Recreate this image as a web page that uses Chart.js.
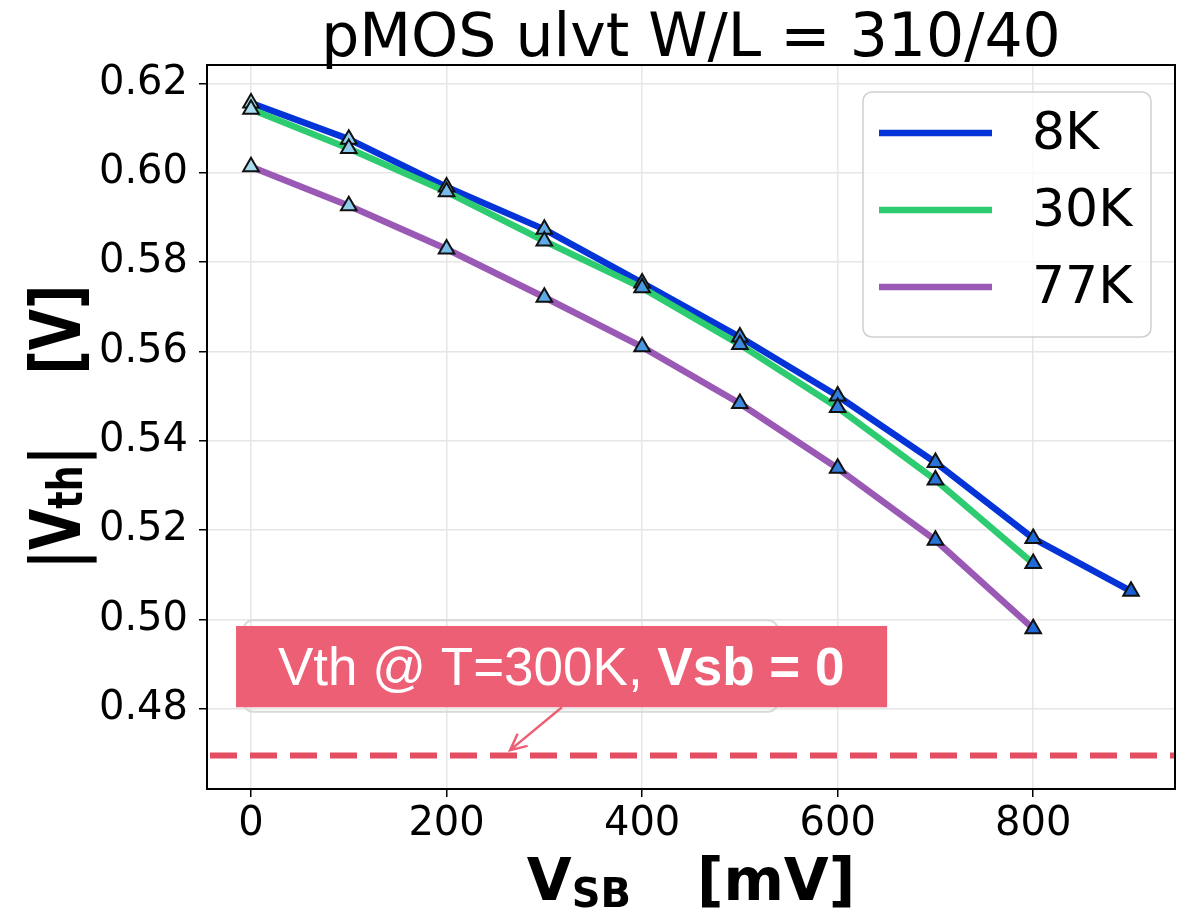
<!DOCTYPE html>
<html>
<head>
<meta charset="utf-8">
<title>pMOS ulvt W/L = 310/40</title>
<script src="https://cdn.jsdelivr.net/npm/chart.js@4.4.1/dist/chart.umd.min.js"></script>
<style>
  html, body { margin: 0; padding: 0; background: #fff; }
  canvas { display: block; }
</style>
</head>
<body>
<canvas id="vthChart" width="1186" height="909"></canvas>
<script>
// |Vth| vs source-bulk bias for a pMOS ulvt device, W/L = 310/40

// Data (Vsb in mV, |Vth| in V)
const vsb    = [0, 100, 200, 300, 400, 500, 600, 700, 800, 900];
const vth8K  = [0.6156, 0.6075, 0.5968, 0.5873, 0.5753, 0.5632, 0.5500, 0.5351, 0.5181, 0.5063];
const vth30K = [0.6142, 0.6054, 0.5957, 0.5847, 0.5742, 0.5615, 0.5474, 0.5312, 0.5125];
const vth77K = [0.6013, 0.5926, 0.5829, 0.5721, 0.5610, 0.5483, 0.5338, 0.5177, 0.4979];
const seriesLabels = ['8K', '30K', '77K'];
const xTicks = [0, 200, 400, 600, 800];
const yTicks = [0.48, 0.50, 0.52, 0.54, 0.56, 0.58, 0.60, 0.62];
const vth300K = 0.4695;   // reference: T = 300K, Vsb = 0

// Styling
const FONT = "'DejaVu Sans', sans-serif";
const lineColors = ['#0434d8', '#2ecc71', '#9b59b6'];
// marker fill shades from light to darker blue along Vsb
const markerFill = ['#a8dcee', '#8ecdee', '#76bbea', '#5eaae6', '#4a98e2',
                    '#3d8ade', '#337ddb', '#2a73d9', '#2069d8', '#1a5fd4'];
const noteColor = '#ec5f74';

const toPoints = (ys) => ys.map((y, i) => ({ x: vsb[i], y: y }));
const series = [vth8K, vth30K, vth77K];

// lines first, triangles in separate sets so they sit above every line
const lineSets = series.map((ys, i) => ({
    label: seriesLabels[i],
    data: toPoints(ys),
    showLine: true,
    borderColor: lineColors[i],
    backgroundColor: lineColors[i],
    borderWidth: 6.5,
    borderJoinStyle: 'round',
    borderCapStyle: 'round',
    pointRadius: 0,
    tension: 0,
    order: 10 - i
}));
const markerSets = series.map((ys, i) => ({
    label: seriesLabels[i] + ' markers',
    data: toPoints(ys),
    showLine: false,
    pointStyle: 'triangle',
    pointRadius: 9,
    pointBorderWidth: 2,
    pointBorderColor: '#111',
    pointBackgroundColor: markerFill.slice(0, ys.length),
    order: 3 - i
}));

// text runs drawn in sequence: [text, size, bold, baseline shift]
function runWidth(ctx, runs) {
    let w = 0;
    runs.forEach(r => {
        if (r.gap) { w += r.gap; return; }
        ctx.font = (r.bold ? 'bold ' : '') + r.size + 'px ' + FONT;
        w += ctx.measureText(r.text).width;
    });
    return w;
}
function drawRuns(ctx, runs, x, y) {
    runs.forEach(r => {
        if (r.gap) { x += r.gap; return; }
        ctx.font = (r.bold ? 'bold ' : '') + r.size + 'px ' + FONT;
        ctx.fillText(r.text, x, y + (r.dy || 0));
        x += ctx.measureText(r.text).width;
    });
}

const decorations = {
    id: 'decorations',
    beforeDatasetsDraw(chart) {
        const { ctx, chartArea: a, scales: { y } } = chart;
        const py = y.getPixelForValue(vth300K);
        ctx.save();
        ctx.beginPath();
        ctx.rect(a.left, a.top, a.right - a.left, a.bottom - a.top);
        ctx.clip();
        ctx.strokeStyle = '#e34f60';
        ctx.lineWidth = 6;
        ctx.setLineDash([27, 13]);
        ctx.beginPath();
        ctx.moveTo(a.left + 3, py);
        ctx.lineTo(a.right, py);
        ctx.stroke();
        ctx.restore();
    },
    afterDraw(chart) {
        const { ctx, chartArea: a, scales: { x, y } } = chart;
        const cx = (a.left + a.right) / 2;
        const cy = (a.top + a.bottom) / 2;
        ctx.save();

        // frame
        ctx.strokeStyle = '#000';
        ctx.lineWidth = 2;
        ctx.strokeRect(a.left, a.top, a.right - a.left, a.bottom - a.top);

        // title
        ctx.fillStyle = '#000';
        ctx.textAlign = 'center';
        ctx.textBaseline = 'alphabetic';
        ctx.font = '60px ' + FONT;
        ctx.fillText('pMOS ulvt W/L = 310/40', cx, 56);

        // x axis title: V_SB   [mV]
        ctx.textAlign = 'left';
        const xRuns = [
            { text: 'V', size: 58, bold: true },
            { text: 'SB', size: 40, bold: true, dy: 7 },
            { gap: 66 },
            { text: '[mV]', size: 58, bold: true }
        ];
        drawRuns(ctx, xRuns, cx - runWidth(ctx, xRuns) / 2, 900);

        // y axis title: |V_th|   [V], rotated
        const yRuns = [
            { text: '|V', size: 70, bold: true },
            { text: 'th', size: 48, bold: true, dy: 2 },
            { text: '|', size: 70, bold: true },
            { gap: 94 },
            { text: '[V]', size: 70, bold: true }
        ];
        ctx.save();
        ctx.translate(80, cy);
        ctx.rotate(-Math.PI / 2);
        ctx.scale(0.76, 1);
        drawRuns(ctx, yRuns, -runWidth(ctx, yRuns) / 2, 0);
        ctx.restore();

        // legend
        const lg = { left: 863, top: 92, right: 1151, bottom: 337 };
        ctx.beginPath();
        ctx.roundRect(lg.left, lg.top, lg.right - lg.left, lg.bottom - lg.top, 9);
        ctx.fillStyle = 'rgba(255,255,255,0.8)';
        ctx.fill();
        ctx.strokeStyle = '#cfcfcf';
        ctx.lineWidth = 1.5;
        ctx.stroke();
        ctx.font = '52px ' + FONT;
        ctx.textBaseline = 'middle';
        lineSets.forEach((ds, i) => {
            const ly = 133 + i * 77;
            ctx.strokeStyle = ds.borderColor;
            ctx.lineWidth = 6.5;
            ctx.beginPath();
            ctx.moveTo(879, ly);
            ctx.lineTo(992, ly);
            ctx.stroke();
            ctx.fillStyle = '#000';
            ctx.fillText(ds.label, 1032, ly + 2);
        });

        // annotation for the 300K reference line
        const px = (v) => x.getPixelForValue(v);
        const py = (v) => y.getPixelForValue(v);
        ctx.beginPath();
        ctx.roundRect(px(-8), py(0.4998), px(539) - px(-8), py(0.4793) - py(0.4998), 10);
        ctx.strokeStyle = '#d9d9d9';
        ctx.lineWidth = 2;
        ctx.stroke();

        ctx.fillStyle = noteColor;
        ctx.fillRect(px(-15.3), py(0.4985), px(650.6) - px(-15.3), py(0.4803) - py(0.4985));

        ctx.fillStyle = '#fff';
        ctx.textBaseline = 'alphabetic';
        let tx = px(27.6);
        const ty = py(0.4853);
        ctx.font = "53px 'Liberation Sans', Arial, sans-serif";
        const plain = 'Vth @ T=300K, ';
        ctx.fillText(plain, tx, ty);
        tx += ctx.measureText(plain).width;
        ctx.font = "bold 53px 'Liberation Sans', Arial, sans-serif";
        ctx.fillText('Vsb = 0', tx, ty);

        // arrow to the dashed line
        const x0 = px(318), y0 = py(0.4803);
        const x1 = px(265), y1 = py(0.4707);
        const ang = Math.atan2(y0 - y1, x0 - x1);
        ctx.strokeStyle = noteColor;
        ctx.lineWidth = 2.5;
        ctx.beginPath();
        ctx.moveTo(x0, y0);
        ctx.lineTo(x1, y1);
        ctx.moveTo(x1 + 18 * Math.cos(ang - 0.45), y1 + 18 * Math.sin(ang - 0.45));
        ctx.lineTo(x1, y1);
        ctx.lineTo(x1 + 18 * Math.cos(ang + 0.45), y1 + 18 * Math.sin(ang + 0.45));
        ctx.stroke();

        ctx.restore();
    }
};

Chart.defaults.font.family = FONT;
Chart.defaults.color = '#000';

new Chart(document.getElementById('vthChart'), {
    type: 'scatter',
    data: { datasets: [...lineSets, ...markerSets] },
    options: {
        responsive: false,
        animation: false,
        layout: { padding: { top: 65, right: 10, left: 0, bottom: 0 } },
        plugins: {
            legend: { display: false },
            tooltip: { enabled: false },
            title: { display: false }
        },
        scales: {
            x: {
                type: 'linear',
                min: -45,
                max: 945,
                afterBuildTicks: (scale) => { scale.ticks = xTicks.map(v => ({ value: v })); },
                afterFit: (scale) => { scale.height = 120; },
                ticks: {
                    autoSkip: false,
                    font: { size: 40 },
                    color: '#000',
                    padding: 4,
                    callback: (v) => String(v)
                },
                grid: {
                    color: '#e6e6e6',
                    lineWidth: 1.5,
                    tickLength: 8,
                    tickColor: '#000',
                    tickWidth: 1.5
                },
                border: { display: false }
            },
            y: {
                type: 'linear',
                min: 0.462,
                max: 0.6241,
                afterBuildTicks: (scale) => { scale.ticks = yTicks.map(v => ({ value: v })); },
                afterFit: (scale) => { scale.width = 207; },
                ticks: {
                    autoSkip: false,
                    font: { size: 40 },
                    color: '#000',
                    padding: 11,
                    callback: (v) => v.toFixed(2)
                },
                grid: {
                    color: '#e6e6e6',
                    lineWidth: 1.5,
                    tickLength: 8,
                    tickColor: '#000',
                    tickWidth: 1.5
                },
                border: { display: false }
            }
        }
    },
    plugins: [decorations]
});
</script>
</body>
</html>
